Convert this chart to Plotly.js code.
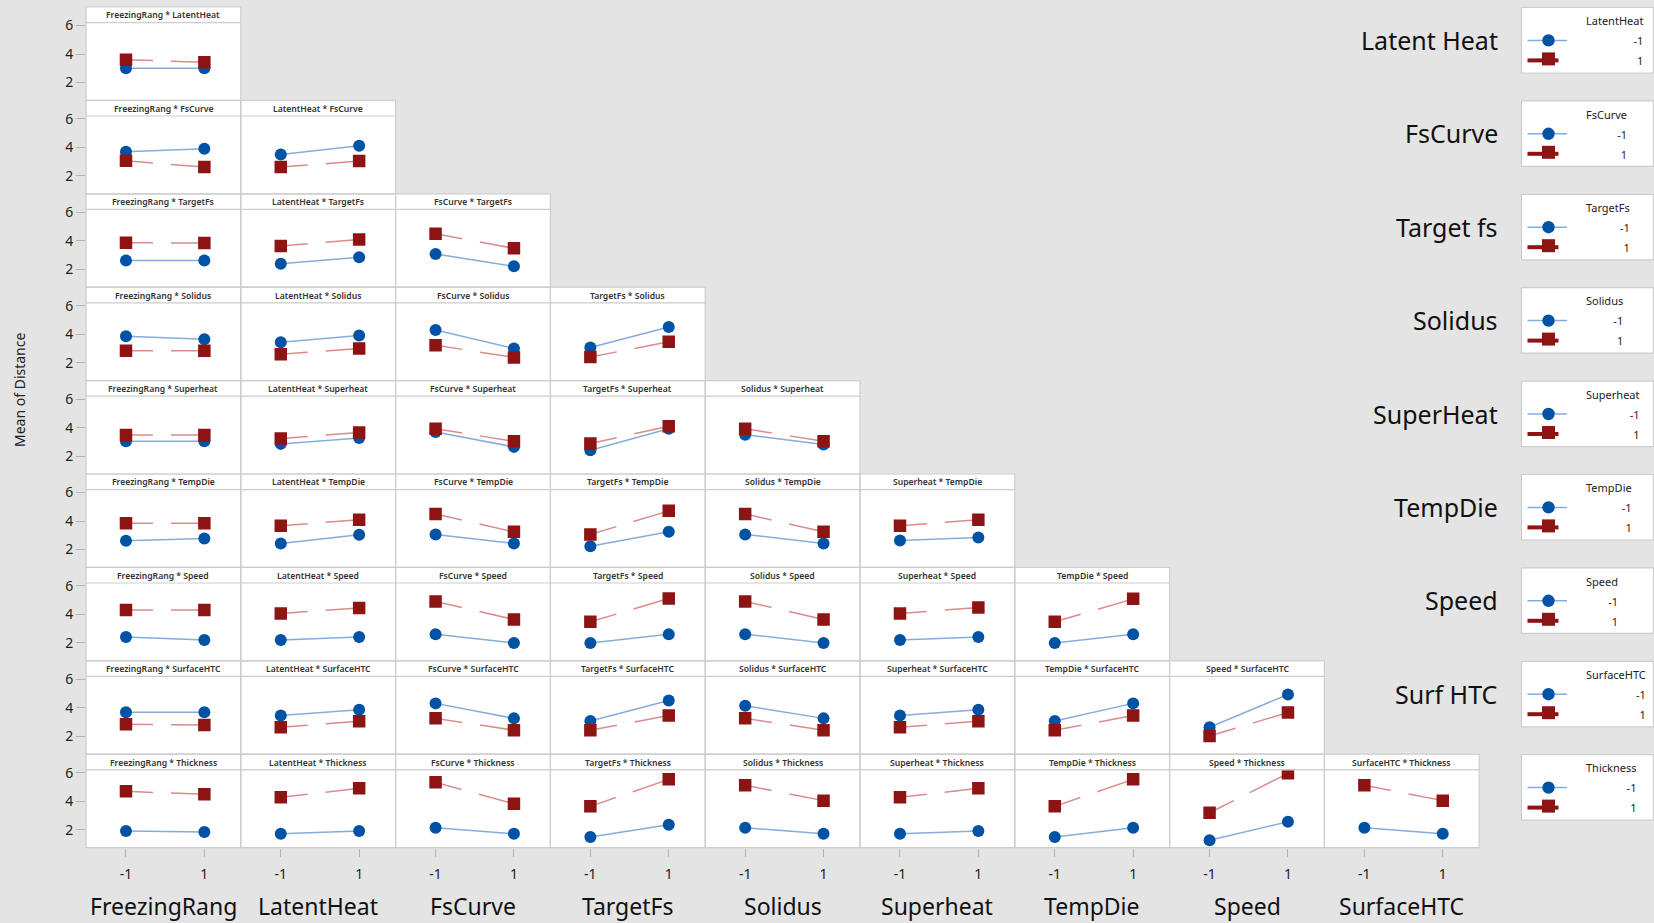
<!DOCTYPE html>
<html>
<head>
<meta charset="utf-8">
<script src="https://cdn.plot.ly/plotly-3.0.1.min.js"></script>
<style>
  html, body { margin: 0; padding: 0; background: #e4e4e4; }
  #chart { width: 1654px; height: 923px; }
</style>
</head>
<body>
<div id="chart"></div>
<script>
// Factors on the x axis (one per column) and trace factors (one per row)
const columnFactors = ["FreezingRang", "LatentHeat", "FsCurve", "TargetFs", "Solidus",
                       "Superheat", "TempDie", "Speed", "SurfaceHTC"];
const rowFactors = ["LatentHeat", "FsCurve", "TargetFs", "Solidus", "Superheat",
                    "TempDie", "Speed", "SurfaceHTC", "Thickness"];
const rowLabels = ["Latent Heat", "FsCurve", "Target fs", "Solidus", "SuperHeat",
                   "TempDie", "Speed", "Surf HTC", ""];
const levels = [-1, 1];
const levelLabels = ["-1", "1"];
const yTicks = [2, 4, 6];

// Mean of Distance at x = -1 / x = 1, one pair per column, for the row factor at level -1 (Low) and 1 (High)
const latentHeatLow  = [[3.00, 3.00]];
const latentHeatHigh = [[3.60, 3.42]];

const fsCurveLow  = [[3.69, 3.90], [3.50, 4.12]];
const fsCurveHigh = [[3.06, 2.62], [2.62, 3.04]];

const targetFsLow  = [[2.62, 2.62], [2.39, 2.85], [3.08, 2.21]];
const targetFsHigh = [[3.87, 3.84], [3.63, 4.09], [4.49, 3.47]];

const solidusLow  = [[3.86, 3.65], [3.44, 3.91], [4.30, 3.00], [3.07, 4.51]];
const solidusHigh = [[2.84, 2.84], [2.60, 3.00], [3.23, 2.37], [2.40, 3.47]];

const superheatLow  = [[3.04, 3.04], [2.86, 3.27], [3.69, 2.65], [2.42, 3.92], [3.50, 2.81]];
const superheatHigh = [[3.48, 3.48], [3.23, 3.66], [3.92, 3.04], [2.88, 4.10], [3.92, 3.04]];

const tempDieLow  = [[2.62, 2.78], [2.43, 3.04], [3.06, 2.43], [2.23, 3.24], [3.06, 2.43], [2.63, 2.84]];
const tempDieHigh = [[3.85, 3.85], [3.67, 4.08], [4.49, 3.24], [3.06, 4.71], [4.49, 3.24], [3.67, 4.08]];

const speedLow  = [[2.41, 2.20], [2.20, 2.41], [2.61, 2.00], [2.00, 2.61], [2.61, 2.00], [2.20, 2.41], [2.00, 2.61]];
const speedHigh = [[4.30, 4.30], [4.07, 4.45], [4.91, 3.64], [3.48, 5.11], [4.91, 3.64], [4.07, 4.48], [3.48, 5.09]];

const surfaceHTCLow  = [[3.69, 3.69], [3.46, 3.87], [4.31, 3.26], [3.07, 4.51], [4.15, 3.26], [3.46, 3.87], [3.07, 4.31], [2.64, 4.93]];
const surfaceHTCHigh = [[2.85, 2.80], [2.64, 3.05], [3.26, 2.43], [2.43, 3.46], [3.26, 2.43], [2.64, 3.05], [2.43, 3.46], [2.02, 3.67]];

const thicknessLow  = [[1.91, 1.85], [1.72, 1.91], [2.14, 1.72], [1.49, 2.35], [2.14, 1.72], [1.72, 1.91], [1.49, 2.14], [1.27, 2.56], [2.14, 1.72]];
const thicknessHigh = [[4.69, 4.48], [4.27, 4.90], [5.32, 3.82], [3.64, 5.53], [5.11, 4.04], [4.27, 4.90], [3.64, 5.53], [3.19, 5.95], [5.11, 4.04]];

const lowMeans  = [latentHeatLow, fsCurveLow, targetFsLow, solidusLow, superheatLow,
                   tempDieLow, speedLow, surfaceHTCLow, thicknessLow];
const highMeans = [latentHeatHigh, fsCurveHigh, targetFsHigh, solidusHigh, superheatHigh,
                   tempDieHigh, speedHigh, surfaceHTCHigh, thicknessHigh];

// ---- page geometry (pixels) ----
const W = 1654, H = 923;
const PANEL_LEFT = 86, PANEL_W = 154.8;
const PANEL_TOP = 7, PANEL_H = 93.4, STRIP_H = 15.6;
const X_RANGE = [-2.02, 1.93];
const Y_RANGE = [0.75, 6.2];
const px = x => x / W;
const py = y => 1 - y / H;

const BLUE = "#0052a5", BLUE_LINE = "#86acdc";
const RED = "#8e1414", RED_LINE = "#d98c8c";
const BORDER = "#cdcdcd";
const FONT = "Noto Sans";

const traces = [];
const shapes = [];
const annotations = [];
const layout = {
  width: W, height: H,
  margin: { l: 0, r: 0, t: 0, b: 0 },
  paper_bgcolor: "#e4e4e4",
  plot_bgcolor: "#ffffff",
  showlegend: false,
  font: { family: FONT, color: "#222" },
};

let k = 0;
rowFactors.forEach((rowName, r) => {
  for (let c = 0; c <= r; c++) {
    k++;
    const sfx = k === 1 ? "" : String(k);
    const xRef = "x" + sfx, yRef = "y" + sfx;
    const x0 = PANEL_LEFT + c * PANEL_W, x1 = x0 + PANEL_W;
    const y0 = PANEL_TOP + r * PANEL_H, y1 = y0 + PANEL_H;
    const bottomRow = r === rowFactors.length - 1;
    const firstCol = c === 0;

    layout["xaxis" + sfx] = {
      domain: [px(x0), px(x1)], range: X_RANGE, anchor: yRef,
      showgrid: false, zeroline: false, showline: false, fixedrange: true,
      tickvals: levels, ticktext: levelLabels,
      showticklabels: bottomRow, ticks: bottomRow ? "outside" : "",
      ticklen: 8, tickcolor: "#b4b4b4", tickwidth: 1,
      ticklabelstandoff: 6,
      tickfont: { family: FONT, size: 14, color: "#222" },
    };
    layout["yaxis" + sfx] = {
      domain: [py(y1), py(y0 + STRIP_H)], range: Y_RANGE, anchor: xRef,
      showgrid: false, zeroline: false, showline: false, fixedrange: true,
      tickvals: yTicks,
      showticklabels: firstCol, ticks: firstCol ? "outside" : "",
      ticklen: 9, tickcolor: "#b4b4b4", tickwidth: 1,
      tickfont: { family: FONT, size: 14, color: "#222" },
    };

    // row factor at level -1
    traces.push({
      type: "scatter", mode: "lines+markers", xaxis: xRef, yaxis: yRef,
      x: levels, y: lowMeans[r][c],
      line: { color: BLUE_LINE, width: 1.5 },
      marker: { symbol: "circle", size: 12, color: BLUE },
      hoverinfo: "skip",
    });
    // row factor at level 1
    traces.push({
      type: "scatter", mode: "lines+markers", xaxis: xRef, yaxis: yRef,
      x: levels, y: highMeans[r][c],
      line: { color: RED_LINE, width: 1.5, dash: "27px,18px,400px" },
      marker: { symbol: "square", size: 12.5, color: RED },
      hoverinfo: "skip",
    });

    // title strip and panel frame
    shapes.push({
      type: "rect", xref: "paper", yref: "paper", layer: "below",
      x0: px(x0), x1: px(x1), y0: py(y0), y1: py(y0 + STRIP_H),
      fillcolor: "#ffffff", line: { width: 0 },
    });
    shapes.push({
      type: "line", xref: "paper", yref: "paper", layer: "above",
      x0: px(x0), x1: px(x1), y0: py(y0 + STRIP_H), y1: py(y0 + STRIP_H),
      line: { color: BORDER, width: 1.2 },
    });
    shapes.push({
      type: "rect", xref: "paper", yref: "paper", layer: "above",
      x0: px(x0), x1: px(x1), y0: py(y1), y1: py(y0),
      line: { color: BORDER, width: 1.2 },
    });
    annotations.push({
      xref: "paper", yref: "paper",
      x: px((x0 + x1) / 2), y: py(y0 + STRIP_H / 2 + 0.5),
      xanchor: "center", yanchor: "middle", showarrow: false,
      text: columnFactors[c] + " * " + rowName,
      font: { family: FONT, size: 8.6, color: "#333", weight: 600 },
    });

    // column factor name under the bottom row
    if (bottomRow) {
      annotations.push({
        xref: xRef + " domain", yref: "paper",
        x: 0.5, y: py(906),
        xanchor: "center", yanchor: "middle", showarrow: false,
        text: columnFactors[c],
        font: { family: FONT, size: 23, color: "#111" },
      });
    }
  }

  // row label and legend box on the right
  const rowTop = PANEL_TOP + r * PANEL_H;
  if (rowLabels[r]) {
    annotations.push({
      xref: "paper", yref: "paper", x: px(1500), y: py(rowTop + 33),
      xanchor: "right", yanchor: "middle", showarrow: false,
      text: rowLabels[r],
      font: { family: FONT, size: 25, color: "#111" },
    });
  }
  shapes.push({
    type: "rect", xref: "paper", yref: "paper", layer: "below",
    x0: px(1521.5), x1: px(1653.5), y0: py(rowTop + 66), y1: py(rowTop + 0.5),
    fillcolor: "#ffffff", line: { color: BORDER, width: 1.2 },
  });
  const yLow = rowTop + 33.4, yHigh = rowTop + 53.4, cx = 1548.5;
  shapes.push({
    type: "line", xref: "paper", yref: "paper",
    x0: px(1527.5), x1: px(1567), y0: py(yLow), y1: py(yLow),
    line: { color: BLUE_LINE, width: 1.5 },
  });
  shapes.push({
    type: "circle", xref: "paper", yref: "paper",
    x0: px(cx - 6.2), x1: px(cx + 6.2), y0: py(yLow + 6.2), y1: py(yLow - 6.2),
    fillcolor: BLUE, line: { width: 0 },
  });
  shapes.push({
    type: "line", xref: "paper", yref: "paper",
    x0: px(1527.5), x1: px(1558.5), y0: py(yHigh), y1: py(yHigh),
    line: { color: RED, width: 4 },
  });
  shapes.push({
    type: "rect", xref: "paper", yref: "paper",
    x0: px(cx - 6.5), x1: px(cx + 6.5), y0: py(yHigh + 5), y1: py(yHigh - 8),
    fillcolor: RED, line: { width: 0 },
  });
  const small = s => '<span style="font-size:11px">' + s + "</span>";
  annotations.push({
    xref: "paper", yref: "paper", x: px(1584), y: py(rowTop + 33.6),
    xanchor: "left", yanchor: "middle", align: "right", showarrow: false,
    text: [rowName, levelLabels[0], levelLabels[1]].map(small).join("<br>"),
    font: { family: FONT, size: 15.4, color: "#222" },
  });
});

// overall y-axis title
annotations.push({
  xref: "paper", yref: "paper", x: px(19), y: py(390),
  xanchor: "center", yanchor: "middle", showarrow: false, textangle: -90,
  text: "Mean of Distance",
  font: { family: FONT, size: 14, color: "#222" },
});

layout.shapes = shapes;
layout.annotations = annotations;

Plotly.newPlot("chart", traces, layout, { displayModeBar: false, staticPlot: true });
</script>
</body>
</html>
